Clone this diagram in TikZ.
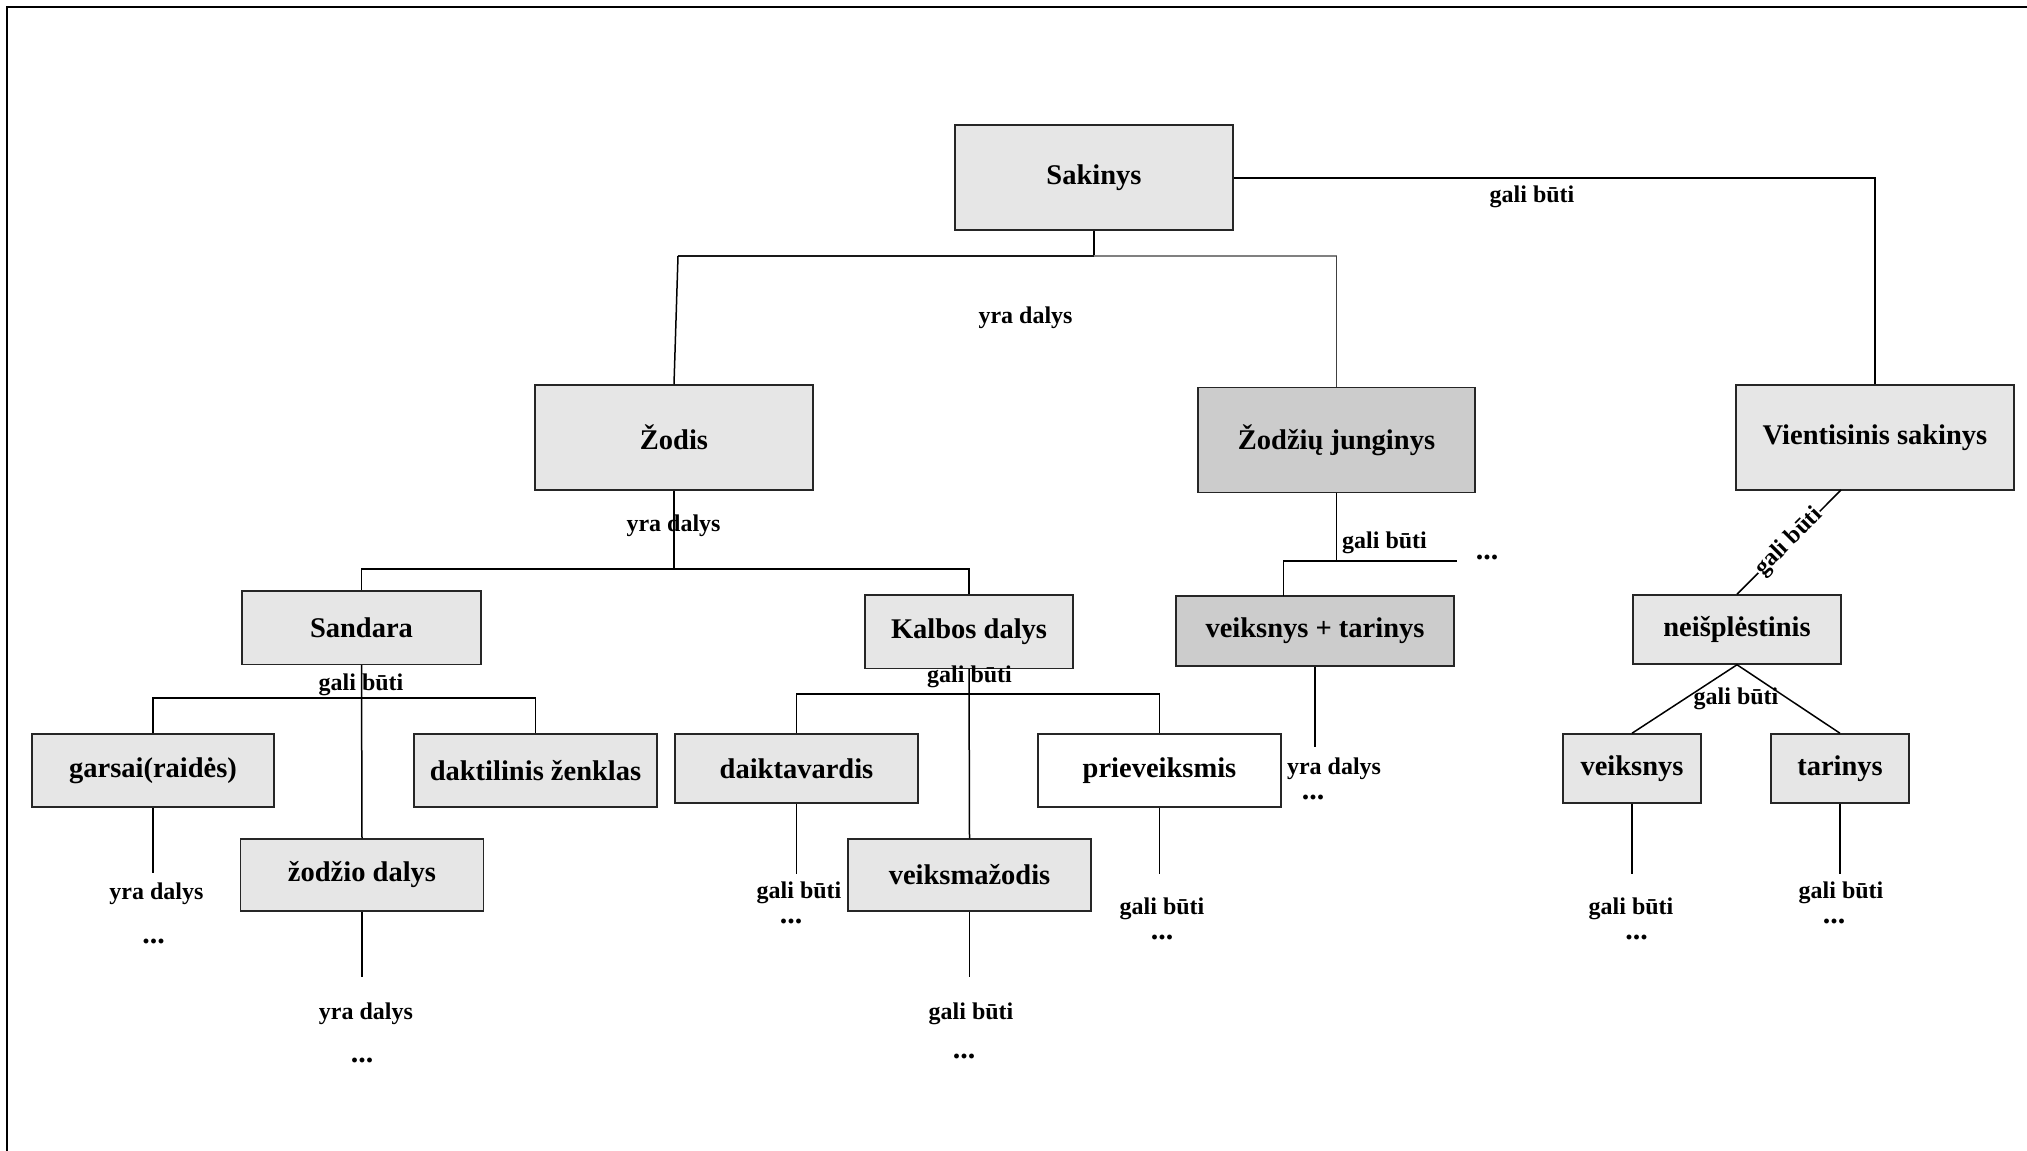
\documentclass[tikz,border=0pt]{standalone}
\usepackage{fontspec}
\setmainfont{Liberation Serif}
\definecolor{boxgray}{HTML}{E6E6E6}
\definecolor{boxdark}{HTML}{CCCCCC}
\begin{document}
\begin{tikzpicture}[x=1pt,y=-1pt,
  box/.style={draw=black!85, line width=1.5pt, fill=boxgray, inner sep=0pt,
    font=\fontsize{28.5}{34}\selectfont\bfseries},
  darkbox/.style={box, fill=boxdark},
  lbl/.style={inner sep=0pt, font=\fontsize{24}{28}\selectfont\bfseries},
  dots/.style={inner sep=0pt, anchor=base, font=\fontsize{30}{34}\selectfont\bfseries},
  link/.style={line width=1.5pt},
]
\useasboundingbox (0,0) rectangle (2027,1151);
% frame
\draw[line width=2pt] (6.5,1151) -- (6.5,6.5) -- (2027,6.5);

% boxes
\node[box, minimum width=278pt, minimum height=105pt] (sakinys) at (1094,177.5) {Sakinys};
\node[box, minimum width=278pt, minimum height=105pt] (zodis) at (674,437.5) {Žodis};
\node[darkbox, minimum width=277pt, minimum height=105pt] (junginys) at (1336.5,440) {Žodžių junginys};
\node[box, minimum width=278pt, minimum height=105pt] (vient) at (1875,437.5) {Vientisinis sakinys};
\node[box, minimum width=239pt, minimum height=73.5pt] (sandara) at (361.5,627.7) {Sandara};
\node[box, minimum width=208pt, minimum height=73.5pt] (kalbos) at (969,631.5) {Kalbos dalys};
\node[darkbox, minimum width=278pt, minimum height=70pt] (vt) at (1315,631) {veiksnys + tarinys};
\node[box, minimum width=208pt, minimum height=69pt] (neispl) at (1737,629.5) {neišplėstinis};
\node[box, minimum width=242pt, minimum height=73pt] (garsai) at (153,770.5) {garsai(raidės)};
\node[box, minimum width=243pt, minimum height=73pt] (daktil) at (535.5,770.5) {daktilinis ženklas};
\node[box, minimum width=243pt, minimum height=72pt] (zdalys) at (362,875) {žodžio dalys};
\node[box, minimum width=243pt, minimum height=69pt] (daikt) at (796.5,768.5) {daiktavardis};
\node[box, minimum width=243pt, minimum height=72pt] (veiksm) at (969.5,875) {veiksmažodis};
\node[box, fill=white, minimum width=243pt, minimum height=73pt] (priev) at (1159.5,770.5) {prieveiksmis};
\node[box, minimum width=138pt, minimum height=69pt] (veiksnys) at (1632,768.5) {veiksnys};
\node[box, minimum width=138pt, minimum height=69pt] (tarinys) at (1840,768.5) {tarinys};

% Sakinys: parts
\coordinate (sbus) at (1094,256);
\coordinate (sbusL) at (678,256);
\coordinate (sbusR) at (1336.5,256);
\draw[link] (sakinys.south) -- (sbus);
\draw[line width=2.5pt, black!90] (sbus) -- (sbusL);
\draw[line width=2pt, black!50] (sbus) -- (sbusR);
\draw[link] (sbusL) -- (zodis.north);
\draw[link, black!75] (sbusR) -- (junginys.north);
\draw[line width=2pt] (sakinys.east) -| (vient.north);

% Žodis: parts
\coordinate (zbus) at (674,568.8);
\draw[link] (zodis.south) -- (zbus);
\draw[link] (sandara.north) -- (sandara.north |- zbus) -- (kalbos.north |- zbus) -- (kalbos.north);

% Sandara
\coordinate (sdbus) at (361.5,698);
\draw[link] (garsai.north) -- (garsai.north |- sdbus) -- (daktil.north |- sdbus) -- (daktil.north);
\draw[link] (sandara.south) -- (zdalys.north);

% Kalbos dalys
\coordinate (kbus) at (969,694);
\draw[link] (daikt.north) -- (daikt.north |- kbus) -- (priev.north |- kbus) -- (priev.north);
\draw[link] (kalbos.south) -- (veiksm.north);

% Žodžių junginys
\coordinate (jbus) at (1336.5,561);
\coordinate (vtTop) at (1283.6,596);
\coordinate (jEnd) at (1457,561);
\draw[link] (junginys.south) -- (jbus);
\draw[link] (vtTop) -- (vtTop |- jbus) -- (jEnd);

% Vientisinis sakinys
\coordinate (vBot) at (1841,490);
\draw[link] (vBot) -- node[lbl, sloped, fill=white, inner sep=1pt] (lv) {gali būti} (neispl.north);
\draw[link] (veiksnys.north) -- (neispl.south) -- (tarinys.north);

% open ends
\coordinate (e1) at (153,872.6);
\coordinate (e2) at (362,977);
\coordinate (e3) at (796.5,874);
\coordinate (e4) at (969.5,977);
\coordinate (e5) at (1159.5,874);
\coordinate (e6) at (1315,747);
\coordinate (e7) at (1632,874);
\coordinate (e8) at (1840,874);
\draw[link] (garsai.south) -- (e1);
\draw[link] (zdalys.south) -- (e2);
\draw[link] (daikt.south) -- (e3);
\draw[link] (veiksm.south) -- (e4);
\draw[link] (priev.south) -- (e5);
\draw[link] (vt.south) -- (e6);
\draw[link] (veiksnys.south) -- (e7);
\draw[link] (tarinys.south) -- (e8);

% labels
\node[lbl] (l1) at (1025.5,318) {yra dalys};
\node[lbl] (l2) at (1532,196.5) {gali būti};
\node[lbl] (l3) at (673.5,525.5) {yra dalys};
\node[lbl] (l4) at (361,685) {gali būti};
\node[lbl] (l5) at (969.5,677) {gali būti};
\node[lbl] (l6) at (1384.5,543) {gali būti};
\node[dots] (d6) at (1487,559) {...};
\node[lbl] (l7) at (1736,699) {gali būti};

\node[lbl] (l8) at (156.5,894) {yra dalys};
\node[dots] (d8) at (153.5,943) {...};
\node[lbl] (l9) at (366,1013.5) {yra dalys};
\node[dots] (d9) at (362,1062) {...};
\node[lbl] (l10) at (799,893) {gali būti};
\node[dots] (d10) at (791,923) {...};
\node[lbl] (l11) at (971,1013.5) {gali būti};
\node[dots] (d11) at (964,1058) {...};
\node[lbl] (l12) at (1162,909) {gali būti};
\node[dots] (d12) at (1162,939) {...};
\node[lbl] (l13) at (1334,769) {yra dalys};
\node[dots] (d13) at (1313,799) {...};
\node[lbl] (l14) at (1631,909) {gali būti};
\node[dots] (d14) at (1636.5,939) {...};
\node[lbl] (l15) at (1841,893) {gali būti};
\node[dots] (d15) at (1834,923) {...};
\end{tikzpicture}
\end{document}
